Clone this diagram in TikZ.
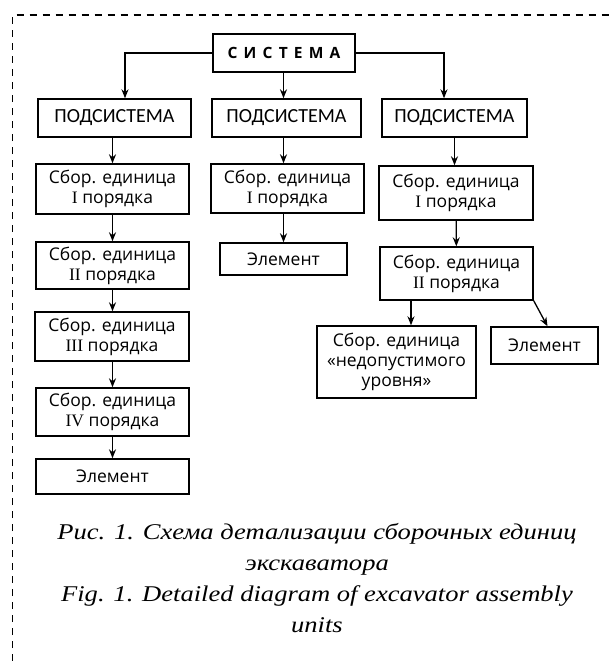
\documentclass[tikz,border=0pt]{standalone}
\usepackage{fontspec}
\usetikzlibrary{arrows.meta}
\setmainfont{Liberation Serif}
\newfontfamily\boxfont{Open Sans}
\newfontfamily\subfont{Carlito}
\newfontfamily\sysfont[LetterSpace=40]{Open Sans}
\tikzset{>={Stealth[length=9pt,width=7pt]}}
\tikzset{
  unit/.style={draw, line width=1.4pt, inner sep=0pt, align=center,
    font=\boxfont\fontsize{17.5}{20}\selectfont},
  sub/.style={unit, minimum height=38pt, font=\subfont\fontsize{20}{22}\selectfont},
  link/.style={->, line width=1.3pt}
}
\newcommand{\rn}[1]{{\rmfamily\upshape #1}}

\begin{document}
\begin{tikzpicture}[x=1pt, y=-1pt]
\useasboundingbox (0,0) rectangle (610,661);
\draw[line width=1.3pt, dash pattern=on 7pt off 6pt] (12.7,661) -- (12.7,15) -- (610,15);
% system and subsystems
\node[unit, minimum width=142pt, minimum height=38pt, font=\sysfont\bfseries\fontsize{15.5}{17}\selectfont] (sys) at (284,53) {СИСТЕМА};
\node[sub, minimum width=153pt] (pA) at (114.5,118) {ПОДСИСТЕМА};
\node[sub, minimum width=149pt] (pB) at (286.5,118) {ПОДСИСТЕМА};
\node[sub, minimum width=145pt] (pC) at (454.5,118) {ПОДСИСТЕМА};
% left column
\node[unit, minimum width=153pt, minimum height=50pt] (a1) at (112.5,189) {Сбор. единица\\ \rn{I} порядка};
\node[unit, minimum width=153pt, minimum height=47pt] (a2) at (112.5,265.5) {Сбор. единица\\ \rn{II} порядка};
\node[unit, minimum width=154pt, minimum height=49pt] (a3) at (112,336.5) {Сбор. единица\\ \rn{III} порядка};
\node[unit, minimum width=153pt, minimum height=48pt] (a4) at (112.5,412) {Сбор. единица\\ \rn{IV} порядка};
\node[unit, minimum width=153pt, minimum height=35pt] (a5) at (112.5,476.5) {Элемент};
% middle column
\node[unit, minimum width=153pt, minimum height=49pt] (b1) at (287.5,188.5) {Сбор. единица\\ \rn{I} порядка};
\node[unit, minimum width=127pt, minimum height=32pt] (b2) at (283.5,259) {Элемент};
% right column
\node[unit, minimum width=154pt, minimum height=54pt] (c1) at (456,193) {Сбор. единица\\ \rn{I} порядка};
\node[unit, minimum width=153pt, minimum height=53pt] (c2) at (456.5,273.5) {Сбор. единица\\ \rn{II} порядка};
\node[unit, minimum width=159pt, minimum height=72pt] (c3) at (396.5,362) {Сбор. единица\\«недопустимого\\уровня»};
\node[unit, minimum width=107pt, minimum height=37pt] (c4) at (544.5,345.5) {Элемент};
% connectors
\draw[link] (sys.west) -| ([xshift=10.5pt]pA.north);
\draw[link] (sys.south -| b2) -- (pB.north -| b2);
\draw[link] (sys.east) -| ([xshift=-10.5pt]pC.north);
\draw[link] (pA.south -| a1) -- (a1.north);
\draw[link] (a1) -- (a2);
\draw[link] (a2.south) -- (a3.north -| a2);
\draw[link] (a3.south -| a4) -- (a4.north);
\draw[link] (a4) -- (a5);
\draw[link] (pB.south -| b2) -- (b1.north -| b2);
\draw[link] (b1.south -| b2) -- (b2.north);
\draw[link] (pC.south) -- (pC.south |- c1.north);
\draw[link] (c1) -- (c2);
\draw[link] ([xshift=14.5pt]c3.north |- c2.south) -- ([xshift=14.5pt]c3.north);
\draw[link] (c2.south east) -- ([xshift=3pt]c4.north);
% caption
\begin{scope}[shift={(317,578.5)}, xscale=1.18]
\node[transform shape, align=center, font=\itshape\fontsize{22.5}{31}\selectfont] (cap) at (0,0)
  {Рис. 1. Схема детализации сборочных единиц\\экскаватора\\Fig. 1. Detailed diagram of excavator assembly\\units};
\end{scope}
\end{tikzpicture}
\end{document}
